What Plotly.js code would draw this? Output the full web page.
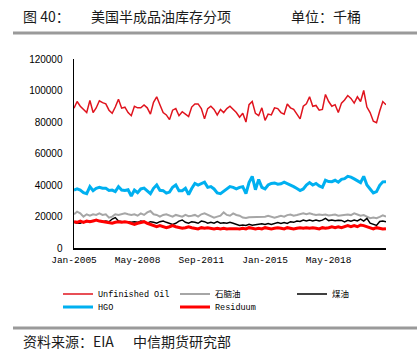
<!DOCTYPE html>
<html>
<head>
<meta charset="utf-8">
<script src="https://cdn.plot.ly/plotly-3.0.1.min.js"></script>
<style>
html,body{margin:0;padding:0;background:#fff;}
#chart{width:417px;height:361px;}
</style>
</head>
<body>
<div id="chart"></div>
<script>
// ---- data (thousand barrels, bimonthly samples from Jan-2005) ----
const startYear = 2005, startMonth = 1, stepMonths = 2;
const seriesNames = ["Unfinished Oil", "石脑油", "煤油", "HGO", "Residuum"];
const tickDates = ["2005-01-01", "2008-05-01", "2011-09-01", "2015-01-01", "2018-05-01"];
const tickLabels = ["Jan-2005", "May-2008", "Sep-2011", "Jan-2015", "May-2018"];

const unfinishedOil = [
88700, 93000, 90000, 88000, 86000, 93700, 86000, 88900, 93500, 92300,
91500, 87500, 85500, 89500, 94500, 88800, 89400, 86000, 84000, 90000,
89000, 89000, 90800, 89000, 85000, 92500, 96000, 91000, 86000, 84500,
81500, 87500, 88500, 84000, 86500, 85000, 83500, 89500, 91500, 91500,
88500, 82000, 88500, 90000, 88000, 84500, 88000, 86000, 88500, 90000,
88000, 86000, 83000, 85500, 80000, 91000, 93000, 85500, 84000, 89000,
81000, 85000, 84500, 89000, 88500, 86000, 85000, 91400, 89000, 88000,
85000, 82000, 90000, 91500, 96000, 90000, 90500, 87500, 88000, 97500,
93000, 90000, 91000, 86000, 92000, 94000, 96800, 95000, 92000, 96000,
93000, 100000, 89500, 86000, 80500, 79500, 87000, 93000, 91000];

const naphtha = [
21400, 23100, 22000, 19900, 21400, 20500, 21400, 21000, 22000, 21000,
21400, 19300, 19900, 21400, 21000, 21400, 22000, 21400, 21000, 21400,
20500, 22000, 21000, 22600, 23500, 21400, 21000, 19900, 21000, 21400,
20500, 19900, 21000, 20500, 19900, 21000, 20200, 20500, 21000, 19900,
21400, 22000, 21000, 19900, 19300, 19900, 20500, 22600, 21000, 20500,
22000, 21000, 20500, 19300, 19000, 19500, 19500, 19600, 19500, 19600,
19900, 20400, 19700, 19300, 19800, 20400, 19900, 20900, 21300, 20500,
20900, 21300, 22000, 21400, 22000, 21400, 21000, 21300, 21000, 21300,
20700, 20900, 21300, 20500, 20800, 21200, 21300, 20900, 22000, 21300,
20500, 20900, 19900, 18900, 19300, 18900, 19800, 20800, 19900];

const kerosene = [
16300, 15700, 15700, 16700, 16700, 17100, 17100, 17800, 17100, 16700,
17100, 16700, 18400, 19300, 17100, 16700, 16300, 16700, 16300, 16700,
16300, 17100, 16700, 15700, 16700, 16300, 15700, 16700, 17100, 16300,
15700, 15000, 15700, 17100, 17800, 16300, 15700, 16700, 16300, 15700,
17100, 16700, 15700, 16300, 15700, 16700, 15700, 16000, 15700, 16300,
15700, 14800, 14300, 14600, 14300, 15000, 14400, 14800, 15300, 15400,
15000, 15600, 15000, 15500, 16200, 15600, 16200, 15600, 16700, 16300,
17100, 16800, 17700, 17200, 17700, 17200, 17700, 17200, 17700, 18800,
17400, 17800, 17300, 17600, 17500, 16500, 17600, 17000, 17700, 17200,
18300, 17100, 18800, 15800, 15000, 14300, 16800, 17100, 16700];

const hgo = [
36800, 37500, 36800, 35200, 34500, 39000, 36400, 37900, 38500, 37900,
37900, 36500, 36800, 35800, 39000, 36800, 36500, 37000, 33000, 36800,
35100, 37500, 38000, 36000, 34500, 37900, 40000, 36600, 36400, 34800,
35500, 38600, 40000, 36400, 36400, 37900, 34000, 37800, 41000, 40000,
41000, 41800, 38500, 39000, 37500, 35000, 34500, 36000, 38000, 39000,
38500, 37500, 38500, 38900, 34500, 41500, 45500, 37000, 43500, 38500,
37500, 40000, 41000, 41300, 40500, 40800, 41800, 41000, 40300, 39000,
37800, 36500, 37500, 40000, 41500, 40000, 41000, 39400, 38500, 43000,
42200, 42100, 43000, 41800, 43600, 44000, 45500, 45000, 43900, 42500,
41500, 45500, 40000, 37500, 35000, 35800, 39800, 42000, 42100];

const residuum = [
16700, 16300, 17100, 16300, 17100, 16700, 17100, 17800, 17100, 16700,
16300, 15700, 15700, 16300, 16700, 16300, 16700, 16300, 15700, 15000,
15700, 16300, 16700, 15700, 15000, 14200, 13500, 14200, 13500, 12900,
13500, 14200, 13500, 12900, 12500, 12900, 13500, 12900, 12500, 12100,
12900, 12500, 12900, 12500, 12100, 12500, 12100, 12500, 12100, 12300,
12500, 12300, 12100, 12500, 12100, 12900, 12500, 12100, 12500, 12100,
12900, 12500, 12100, 12500, 12900, 12500, 12100, 12900, 12500, 12100,
12500, 12900, 12500, 12900, 12500, 12900, 12500, 12100, 12900, 12500,
12900, 13500, 12900, 13500, 12900, 13500, 14200, 13500, 14200, 13500,
14600, 14200, 13500, 12900, 12100, 12900, 12500, 12100, 12300];

// ---- helpers ----
function dateAt(i) {
  const m0 = (startMonth - 1) + i * stepMonths;
  const y = startYear + Math.floor(m0 / 12);
  const m = (m0 % 12) + 1;
  return y + "-" + String(m).padStart(2, "0") + "-01";
}
function datesFor(arr) { return arr.map((_, i) => dateAt(i)); }

// page geometry
const W = 417, H = 361;
const mL = 74, mR = 31, mT = 59, mB = 113;
const plotW = W - mL - mR, plotH = H - mT - mB;
const px2x = px => (px - mL) / plotW;
const px2y = py => (H - mB - py) / plotH;

const cjk = "Noto Sans CJK SC, Noto Sans, sans-serif";
const mono = "Liberation Mono, Noto Sans CJK SC, monospace";

const styles = [
  {color: "#E0141E", width: 1.5, legend: "legend"},
  {color: "#A6A6A6", width: 2, legend: "legend"},
  {color: "#000000", width: 1.5, legend: "legend"},
  {color: "#00B0F0", width: 3, legend: "legend2"},
  {color: "#FF0000", width: 3, legend: "legend2"}
];
const values = [unfinishedOil, naphtha, kerosene, hgo, residuum];

const traces = values.map((v, k) => ({
  type: "scatter", mode: "lines",
  name: seriesNames[k],
  x: datesFor(v), y: v,
  line: {color: styles[k].color, width: styles[k].width},
  legend: styles[k].legend,
  hoverinfo: "skip"
}));

const lastDate = dateAt(Math.max(...values.map(v => v.length)) - 1);

const layout = {
  width: W, height: H,
  margin: {l: mL, r: mR, t: mT, b: mB, pad: 0},
  paper_bgcolor: "#fff", plot_bgcolor: "#fff",
  showlegend: true,
  xaxis: {
    type: "date",
    range: [dateAt(0), lastDate],
    tickvals: tickDates, ticktext: tickLabels,
    showgrid: false, zeroline: false,
    showline: true, linecolor: "#000", linewidth: 1.5,
    ticks: "", ticklabelstandoff: 2,
    tickfont: {family: mono, size: 9.5, color: "#000"},
    fixedrange: true
  },
  yaxis: {
    range: [0, 120000], dtick: 20000, tick0: 0,
    tickformat: ".0f",
    showgrid: false, zeroline: false,
    showline: true, linecolor: "#000", linewidth: 1.5,
    ticks: "", ticklabelstandoff: 8,
    tickfont: {family: "Liberation Sans, Arial, sans-serif", size: 10, color: "#000"},
    fixedrange: true
  },
  legend: {
    orientation: "h", x: px2x(58), xanchor: "left",
    y: px2y(294), yanchor: "middle",
    entrywidth: 72, entrywidthmode: "pixels",
    bgcolor: "rgba(0,0,0,0)",
    font: {family: mono, size: 8.5, color: "#000"}
  },
  legend2: {
    orientation: "h", x: px2x(58), xanchor: "left",
    y: px2y(307), yanchor: "middle",
    entrywidth: 72, entrywidthmode: "pixels",
    bgcolor: "rgba(0,0,0,0)",
    font: {family: mono, size: 8.5, color: "#000"}
  },
  shapes: [
    {type: "line", xref: "paper", yref: "paper", x0: px2x(13), x1: px2x(417), y0: px2y(33), y1: px2y(33),
     line: {color: "#9A9A9A", width: 3}},
    {type: "line", xref: "paper", yref: "paper", x0: px2x(13), x1: px2x(417), y0: px2y(328), y1: px2y(328),
     line: {color: "#9A9A9A", width: 3}}
  ],
  annotations: [
    {text: "图 40：", xref: "paper", yref: "paper", x: px2x(21), y: px2y(16), xanchor: "left", yanchor: "middle",
     showarrow: false, font: {family: cjk, size: 14, color: "#1a1a1a"}},
    {text: "美国半成品油库存分项", xref: "paper", yref: "paper", x: px2x(89), y: px2y(16), xanchor: "left", yanchor: "middle",
     showarrow: false, font: {family: cjk, size: 14, color: "#1a1a1a"}},
    {text: "单位：千桶", xref: "paper", yref: "paper", x: px2x(289), y: px2y(16), xanchor: "left", yanchor: "middle",
     showarrow: false, font: {family: cjk, size: 14, color: "#1a1a1a"}},
    {text: "资料来源：EIA", xref: "paper", yref: "paper", x: px2x(21), y: px2y(341), xanchor: "left", yanchor: "middle",
     showarrow: false, font: {family: cjk, size: 14, color: "#1a1a1a"}},
    {text: "中信期货研究部", xref: "paper", yref: "paper", x: px2x(131), y: px2y(341), xanchor: "left", yanchor: "middle",
     showarrow: false, font: {family: cjk, size: 14, color: "#1a1a1a"}}
  ]
};

Plotly.newPlot("chart", traces, layout, {staticPlot: true, displayModeBar: false});
</script>
</body>
</html>
